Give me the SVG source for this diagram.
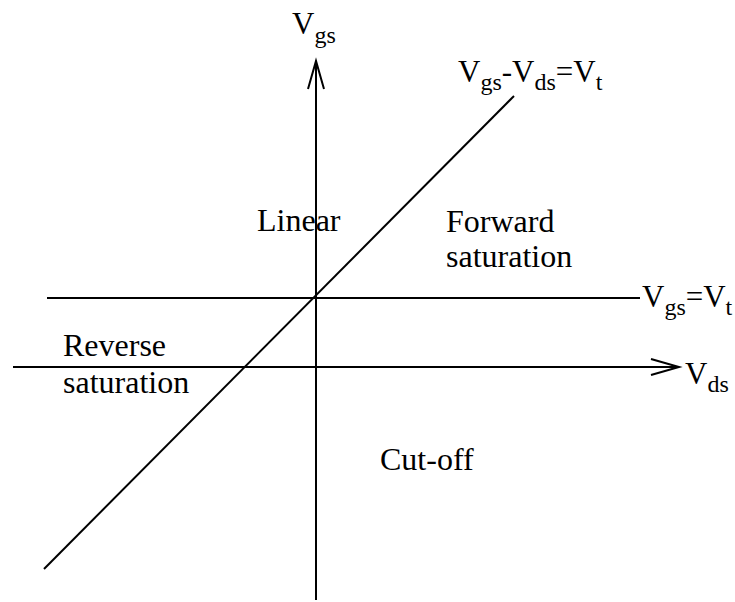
<svg xmlns="http://www.w3.org/2000/svg" width="735" height="602" viewBox="0 0 735 602">
<style>
.ln{stroke:#000;stroke-width:2;fill:none}
.t{font-family:"Liberation Serif","Times New Roman",serif;font-size:31px;fill:#000}
.r{font-size:32px}
.s{font-size:24px}
</style>
<rect width="735" height="602" fill="#fff"/>
<g id="connectors">
<line class="ln" x1="316" y1="600" x2="316" y2="61"/>
<polyline class="ln" points="308,89 316,61 324,89"/>
<line class="ln" x1="13" y1="367" x2="679" y2="367"/>
<polyline class="ln" points="651,359 679,367 651,375"/>
<line class="ln" x1="47" y1="298" x2="640" y2="298"/>
<line class="ln" x1="44" y1="569" x2="514" y2="96"/>
</g>
<g id="vgs-axis-label"><text class="t" x="292" y="34">V<tspan class="s" dy="9">gs</tspan></text></g>
<g id="vds-axis-label"><text class="t" x="685" y="384">V<tspan class="s" dy="8">ds</tspan></text></g>
<g id="diag-label"><text class="t" x="458" y="82">V<tspan class="s" dy="8">gs</tspan><tspan dy="-8">-</tspan><tspan>V</tspan><tspan class="s" dy="8">ds</tspan><tspan dy="-8">=V</tspan><tspan class="s" dy="8">t</tspan></text></g>
<g id="hline-label"><text class="t" x="642" y="307">V<tspan class="s" dy="8">gs</tspan><tspan dy="-8">=V</tspan><tspan class="s" dy="8">t</tspan></text></g>
<g id="linear"><text class="t r" x="257" y="231">Linear</text></g>
<g id="forward"><text class="t r" x="446" y="232">Forward</text><text class="t r" x="446" y="267">saturation</text></g>
<g id="reverse"><text class="t r" x="63" y="356">Reverse</text><text class="t r" x="63" y="393">saturation</text></g>
<g id="cutoff"><text class="t r" x="380" y="470">Cut-off</text></g>
</svg>
